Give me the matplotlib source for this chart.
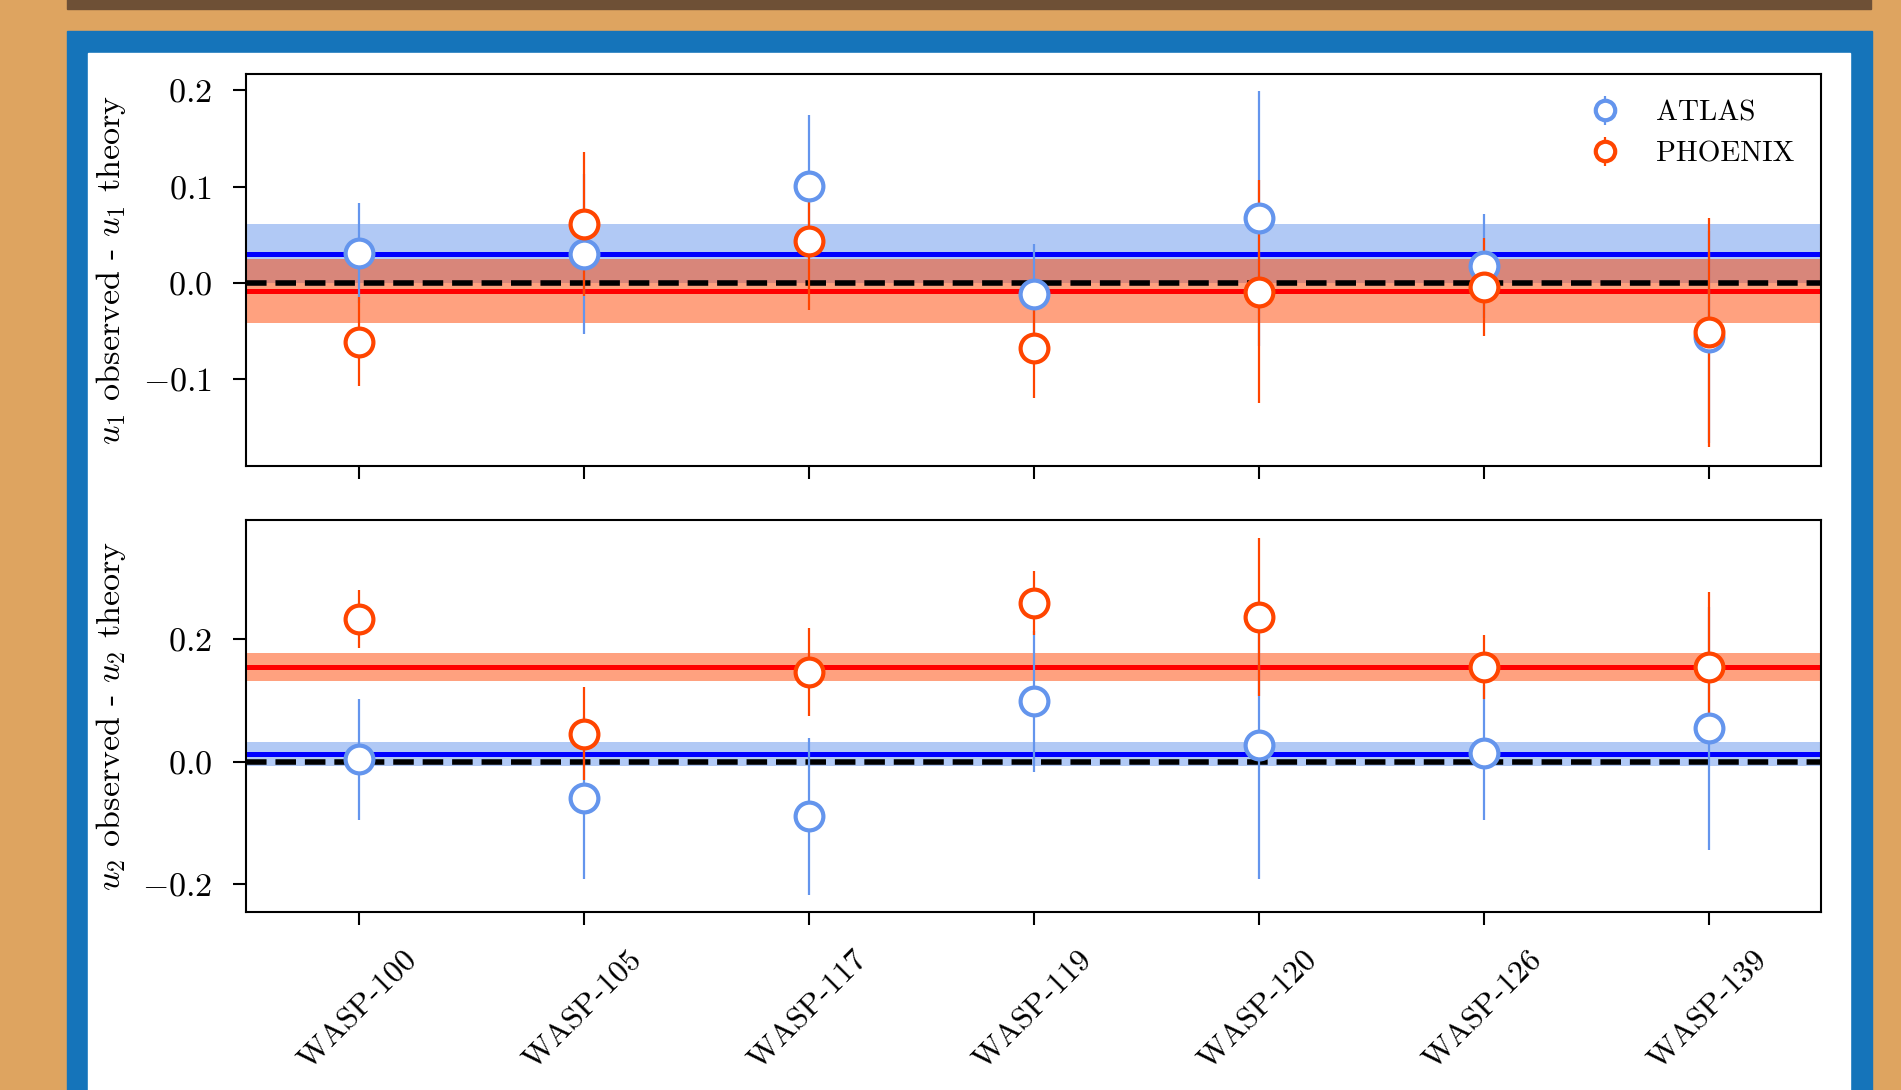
import numpy as np
import matplotlib.pyplot as plt
from matplotlib.patches import Rectangle

plt.rcParams['font.family'] = ['cmr10']
plt.rcParams['mathtext.fontset'] = 'cm'
plt.rcParams['axes.formatter.use_mathtext'] = True

planets = ['WASP-100', 'WASP-105', 'WASP-117', 'WASP-119', 'WASP-120', 'WASP-126', 'WASP-139']

# u1 residuals (observed - theory)
u1_atlas = [0.031, 0.030, 0.101, -0.011, 0.067, 0.018, -0.056]
u1_atlas_err = [0.052, 0.083, 0.073, 0.052, 0.132, 0.054, 0.110]
u1_phoenix = [-0.061, 0.061, 0.044, -0.068, -0.009, -0.004, -0.051]
u1_phoenix_err = [0.046, 0.075, 0.072, 0.051, 0.116, 0.051, 0.119]

# u2 residuals (observed - theory)
u2_atlas = [0.004, -0.059, -0.089, 0.099, 0.027, 0.015, 0.055]
u2_atlas_err = [0.098, 0.132, 0.128, 0.115, 0.218, 0.110, 0.198]
u2_phoenix = [0.233, 0.046, 0.147, 0.259, 0.236, 0.155, 0.155]
u2_phoenix_err = [0.047, 0.076, 0.072, 0.052, 0.129, 0.052, 0.123]

# weighted mean offsets and their uncertainties
u1_mean = {'ATLAS': (0.0305, 0.031), 'PHOENIX': (-0.0083, 0.033)}
u2_mean = {'ATLAS': (0.0126, 0.020), 'PHOENIX': (0.155, 0.0225)}

W, H = 1901, 1090
fig = plt.figure(figsize=(W / 100, H / 100), dpi=100)
fig.patch.set_facecolor('#dea460')


def px_rect(x0, y0, x1, y1, color):
    # rectangle given in pixels from the top-left corner
    fig.patches.append(Rectangle((x0 / W, 1 - y1 / H), (x1 - x0) / W, (y1 - y0) / H,
                                 transform=fig.transFigure, color=color, zorder=-10))


px_rect(67, -5, 1871, 9, '#6e5036')
px_rect(67, 31, 1872, H + 5, '#1574ba')
px_rect(88, 53, 1850, H + 5, 'white')

ax1 = fig.add_axes([246 / W, 1 - 466 / H, (1821 - 246) / W, (466 - 74) / H])
ax2 = fig.add_axes([246 / W, 1 - 912 / H, (1821 - 246) / W, (912 - 520) / H], sharex=ax1)

x = np.arange(len(planets))
series = [
    (ax1, u1_atlas, u1_atlas_err, u1_phoenix, u1_phoenix_err, u1_mean),
    (ax2, u2_atlas, u2_atlas_err, u2_phoenix, u2_phoenix_err, u2_mean),
]

for ax, ya, ea, yp, ep, means in series:
    m, s = means['ATLAS']
    ax.axhspan(m - s, m + s, color='cornflowerblue', alpha=0.5, lw=0, zorder=1)
    m, s = means['PHOENIX']
    ax.axhspan(m - s, m + s, color='orangered', alpha=0.5, lw=0, zorder=1)
    ax.axhline(means['ATLAS'][0], color='blue', lw=3.6, zorder=1.5)
    ax.axhline(means['PHOENIX'][0], color='red', lw=3.6, zorder=1.5)
    ax.axhline(0, color='black', lw=4, ls='--', zorder=1.8)

    ax.errorbar(x, ya, yerr=ea, fmt='o', color='cornflowerblue', mfc='white',
                mec='cornflowerblue', ms=20, mew=3, elinewidth=1.6, label='ATLAS', zorder=2)
    ax.errorbar(x, yp, yerr=ep, fmt='o', color='orangered', mfc='white',
                mec='orangered', ms=20, mew=3, elinewidth=1.6, label='PHOENIX', zorder=2)

    for sp in ax.spines.values():
        sp.set_linewidth(1.5)
    ax.tick_params(axis='both', direction='out', length=9.5, width=1.5)
    ax.tick_params(axis='y', pad=15, labelsize=24.5)

ax1.set_xlim(-0.5, 6.5)
ax1.set_ylim(-0.19, 0.217)
ax2.set_ylim(-0.245, 0.395)
ax1.set_yticks([-0.1, 0.0, 0.1, 0.2])
ax2.set_yticks([-0.2, 0.0, 0.2])
ax1.set_xticks(x)
ax1.tick_params(axis='x', labelbottom=False)
ax2.set_xticks(x)
ax2.set_xticklabels(planets, rotation=45, fontsize=23)
ax2.tick_params(axis='x', pad=15)

ax1.set_ylabel(r'$u_1$ observed - $u_1$ theory', fontsize=24.5)
ax2.set_ylabel(r'$u_2$ observed - $u_2$ theory', fontsize=24.5)
ax1.yaxis.set_label_coords(-0.075, 0.5)
ax2.yaxis.set_label_coords(-0.075, 0.5)

ax1.legend(loc='upper right', frameon=False, fontsize=21, markerscale=0.7,
           handlelength=1.2, handletextpad=1.15, borderaxespad=0.5, labelspacing=0.5)

fig.savefig('out.png', dpi=100, facecolor=fig.get_facecolor())
